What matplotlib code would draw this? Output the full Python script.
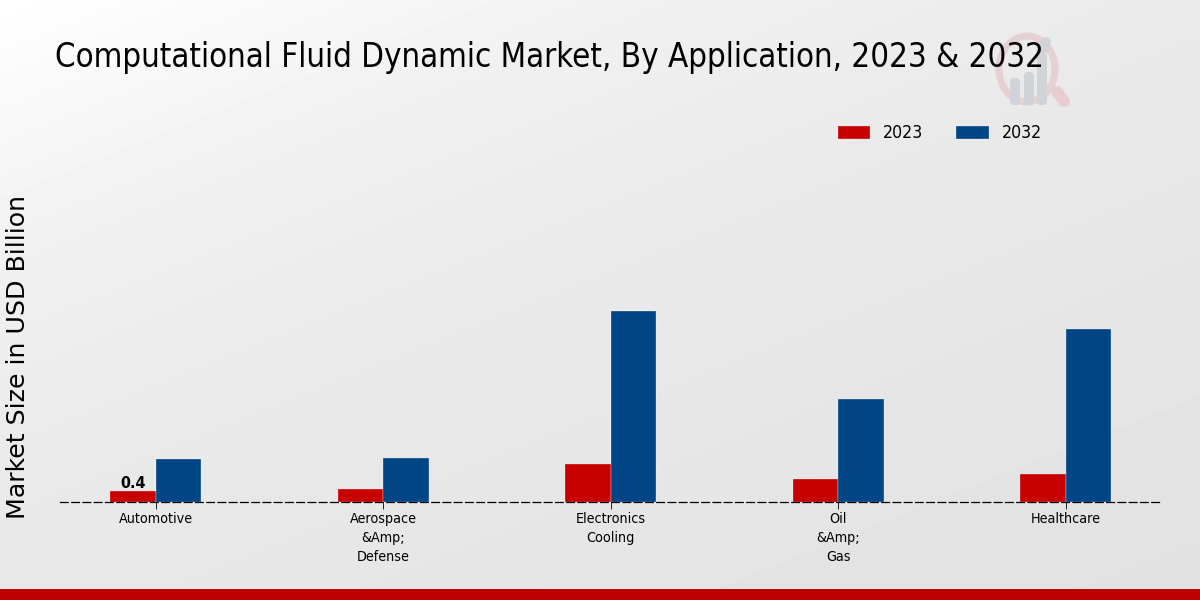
#!/usr/bin/env python3
"""Grouped bar chart of CFD market size by application, 2023 and 2032."""

import matplotlib

matplotlib.use("Agg")
import matplotlib.pyplot as plt
import numpy as np
from matplotlib.patches import Ellipse, FancyBboxPatch

categories = ["Automotive", "Aerospace\n&Amp;\nDefense", "Electronics\nCooling", "Oil\n&Amp;\nGas", "Healthcare"]
values_2023 = [0.40, 0.48, 1.38, 0.84, 1.02]
values_2032 = [1.55, 1.60, 6.95, 3.75, 6.30]
labels = ["2023", "2032"]

RED = "#c80000"
BLUE = "#004687"
BAR_WIDTH = 0.2

plt.rcParams["font.family"] = "DejaVu Sans"
plt.rcParams["font.stretch"] = "condensed"

fig = plt.figure(figsize=(12, 6), dpi=100)

# Background gradient, white in the top left corner to light grey
bg = fig.add_axes([0, 0, 1, 1], zorder=0)
yy, xx = np.mgrid[0:600:300j, 0:1200:600j]
shade = np.interp(xx * 0.4 + yy, [0, 270, 520, 1030], [255, 240, 233, 226]) / 255
bg.imshow(shade, cmap="gray", vmin=0, vmax=1, aspect="auto", extent=[0, 1200, 600, 0])
bg.set_xlim(0, 1200)
bg.set_ylim(600, 0)
bg.axis("off")

# Bottom strip
bg.fill_between([0, 1200], 589, 600, color="#c00000", lw=0)

# Watermark logo
bg.add_patch(Ellipse((1027, 69), 56, 66, fill=False, edgecolor="#e5d0d2", lw=5))
bg.plot([1057, 1064], [92, 101], color="#e8cdd0", lw=8.5, solid_capstyle="round")
for left, top in [(1010, 78), (1024, 72), (1037, 53)]:
    bg.add_patch(FancyBboxPatch((left, top), 10, 105 - top, boxstyle="round,pad=0,rounding_size=4", color="#d0d3d7", lw=0))
bg.plot([1040, 1046], [56, 42], color="#d0d3d7", lw=7, solid_capstyle="round")

ax = fig.add_axes([60 / 1200, 98 / 600, 1100 / 1200, 402 / 600], zorder=1)
ax.patch.set_alpha(0)

x = np.arange(len(categories))
ax.bar(x - BAR_WIDTH / 2, values_2023, BAR_WIDTH, color=RED, edgecolor="white", linewidth=0.2, label=labels[0])
ax.bar(x + BAR_WIDTH / 2, values_2032, BAR_WIDTH, color=BLUE, edgecolor="white", linewidth=0.2, label=labels[1])

ax.set_xlim(-0.42, 4.415)
ax.set_ylim(0, 14.6)
ax.set_xticks(x)
ax.set_xticklabels(categories, fontsize=10.3, linespacing=1.42)
ax.set_yticks([])
ax.tick_params(axis="x", length=5, width=0.6, pad=2.5)

for side in ["top", "right", "left"]:
    ax.spines[side].set_visible(False)
ax.spines["bottom"].set_linestyle((0, (6.2, 2.8)))
ax.spines["bottom"].set_linewidth(0.9)

ax.text(x[0] - BAR_WIDTH / 2, values_2023[0] + 0.01, "0.4", ha="center", va="bottom", fontsize=11.5, fontweight="bold")

fig.text(55 / 1200, 1 - 58 / 600, "Computational Fluid Dynamic Market, By Application, 2023 & 2032", fontsize=23.65, va="center")
fig.text(18 / 1200, 1 - 357 / 600, "Market Size in USD Billion", fontsize=18.2, stretch="normal", rotation=90, va="center", ha="center")

ax.legend(
    loc="center",
    bbox_to_anchor=(940 / 1200, 1 - 133.5 / 600),
    bbox_transform=fig.transFigure,
    ncol=2,
    frameon=False,
    fontsize=12.7,
    handlelength=1.82,
    handleheight=0.8,
    columnspacing=1.87,
    handletextpad=0.74,
)

fig.savefig("out.png", dpi=100)
